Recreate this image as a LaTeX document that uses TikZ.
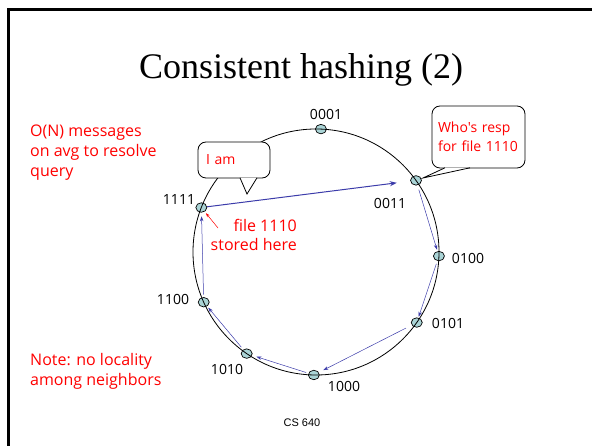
\documentclass[tikz,border=0pt]{standalone}
\usepackage{fontspec}
\setmainfont{Liberation Serif}
\newfontfamily\notefont{Open Sans}
\newfontfamily\footfont{Liberation Sans}
\usetikzlibrary{shapes.geometric,arrows.meta}
\definecolor{hopblue}{RGB}{60,60,170}
\definecolor{peerfill}{RGB}{170,212,214}

\begin{document}
\begin{tikzpicture}[x=1pt,y=-1pt,
  peer/.style={ellipse,draw,line width=0.7pt,fill=peerfill,minimum width=11pt,minimum height=9.5pt,inner sep=0pt},
  peerlabel/.style={font=\notefont\fontsize{14}{16}\selectfont,inner sep=0pt},
  hop/.style={draw=hopblue,line width=0.5pt,-{Stealth[length=5pt,width=3.5pt]}},
  note/.style={text=red,font=\notefont\fontsize{16}{20}\selectfont,inner sep=0pt},
  callbox/.style={draw,line width=0.8pt,fill=white,rounded corners=8pt,text=red,font=\notefont\fontsize{14}{19}\selectfont,align=left,inner xsep=6pt,inner ysep=0pt},
  callptr/.style={draw,line width=0.8pt,fill=white}]
\useasboundingbox (0,0) rectangle (592,446);
% slide frame
\draw[line width=3pt] (8,446) -- (8,9.5) -- (592,9.5);
\node[font=\fontsize{36}{40}\selectfont,inner sep=0pt] (title) at (301,70) {Consistent hashing (2)};

% ring of peers
\coordinate (ctr) at (316,252);
\foreach \id/\ang/\lx/\ly in {0001/-87.7/326/114,0011/-35.6/390/203,0100/1.9/468/258,0101/35/448/323,
    1000/91/344/386,1010/124.3/227/369,1100/155.9/173/299,1111/-158.8/179/200}{
  \node[peer] (n\id) at ([shift={(\ang:123)}]ctr) {};
  \node[peerlabel] (l\id) at (\lx,\ly) {\id};
}
\draw[line width=0.8pt] (ctr) circle[radius=123];

% lookup path
\draw[hop,line width=1pt,-{Stealth[length=7pt,width=5pt]},shorten >=13.5pt] (n1111) -- (n0011);
\draw[hop,shorten <=4.5pt,shorten >=1.5pt] (n0011) -- (n0100);
\draw[hop,shorten <=3pt,shorten >=1pt] (n0100) -- (n0101);
\draw[hop,shorten <=6.5pt,shorten >=5pt] (n0101) -- (n1000);
\draw[hop,shorten <=2.3pt,shorten >=4.5pt] (n1000) -- (n1010);
\draw[hop,shorten <=3pt,shorten >=1.7pt] (n1010) -- (n1100);
\draw[hop,shorten <=2.5pt,shorten >=3.7pt] (n1100) -- (n1111);

% callouts
\node[callbox,text width=56pt,inner xsep=8pt,minimum height=36pt] (iam) at (234,160) {I am};
\coordinate (iamtip) at (247,194);
\draw[callptr] ([xshift=6pt,yshift=0.6pt]iam.south) -- (iamtip) -- ([xshift=23pt,yshift=0.6pt]iam.south);
\node[callbox,text width=81pt,minimum height=62pt] (resp) at (478.5,137) {Who's resp\\for file 1110};
\coordinate (resptip) at (423,178);
\draw[callptr] ([xshift=-33.5pt,yshift=0.6pt]resp.south) -- (resptip) -- ([xshift=-8.5pt,yshift=0.6pt]resp.south);

% notes
\coordinate (storetail) at (218,228);
\draw[red,line width=0.5pt,-{Stealth[length=4pt,width=3pt]},shorten >=2pt] (storetail) -- (n1111);
\node[note,font=\notefont\fontsize{16}{19}\selectfont,align=right,anchor=east] (stored) at (297,234.5) {file 1110\\stored here};
\node[note,align=left,anchor=west] (cost) at (30,153) {O(N) messages\\on avg to resolve\\query};
\node[note,align=left,anchor=west] (locality) at (30,371) {Note: no locality\\among neighbors};
\node[font=\footfont\fontsize{11}{13}\selectfont,inner sep=0pt] (foot) at (302,423) {CS 640};
\end{tikzpicture}
\end{document}
